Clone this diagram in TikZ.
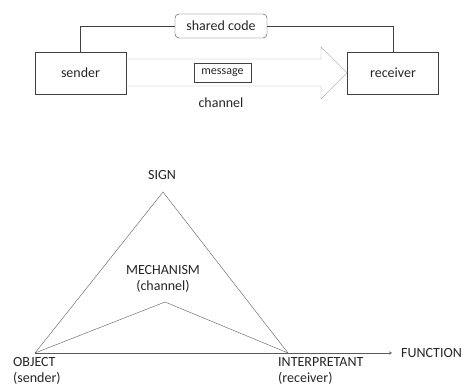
\documentclass[tikz,border=0pt]{standalone}
\usepackage{fontspec}
\setmainfont{Carlito}
\usetikzlibrary{positioning,arrows}
\definecolor{ink}{HTML}{262626}
\definecolor{boxline}{HTML}{404040}
\definecolor{pipe}{HTML}{A6A6A6}
\definecolor{tri}{HTML}{5A5A5A}
\tikzset{
x=1pt,y=-1pt,
>=stealth,
every node/.style={text=ink,font=\fontsize{14}{16}\selectfont},
party/.style={draw=boxline,semithick,minimum width=91pt,minimum height=42pt,inner sep=0pt},
code/.style={draw=boxline,thin,rounded corners=4pt,minimum width=92pt,minimum height=24pt,inner sep=0pt},
msg/.style={draw=boxline,thin,minimum width=57pt,minimum height=19pt,inner sep=0pt,font=\fontsize{12}{14}\selectfont},
pipeline/.style={draw=pipe,thin},
side/.style={draw=tri,thin},
corner/.style={align=left,inner sep=0pt,anchor=north west}
}
\begin{document}
\begin{tikzpicture}
\useasboundingbox (0,0) rectangle (465,387);
% communication model
\node[party] (sender) at (80.5,73) {sender};
\node[party] (receiver) at (393,73) {receiver};
\node[code] (shared) at (221,26) {shared code};
\draw[pipeline] (sender.east |- 0,59) -- (321,59) -- (321,47) -- (receiver.west)
  -- (321,99) -- (321,86) -- (sender.east |- 0,86);
\node[msg] (message) at (222.5,72.5) {message};
\node (channel) at (221,103) {channel};
\draw[boxline,thin] (sender.north -| 80,0) |- (shared.west);
\draw[boxline,thin] (shared.east) -| (receiver.north);

% semiotic triangle
\coordinate (obj) at (35,353);
\coordinate (sig) at (163,192);
\coordinate (int) at (288,353);
\coordinate (mec) at (165,302);
\coordinate (fun) at (392,353);
\node (sign) at (162,175) {SIGN};
\node[align=center,inner sep=0pt] (mechanism) at (163,279) {MECHANISM\\(channel)};
\node[corner] (object) at (13,357) {OBJECT\\(sender)};
\node[corner] (interpretant) at (278,357) {INTERPRETANT\\(receiver)};
\node[anchor=west,inner sep=0pt] (function) at (401,353) {FUNCTION};
\draw[side] (obj) -- (sig) -- (int);
\draw[side] (obj) -- (mec) -- (int);
\draw[side,->] (obj) -- (fun);
\end{tikzpicture}
\end{document}
